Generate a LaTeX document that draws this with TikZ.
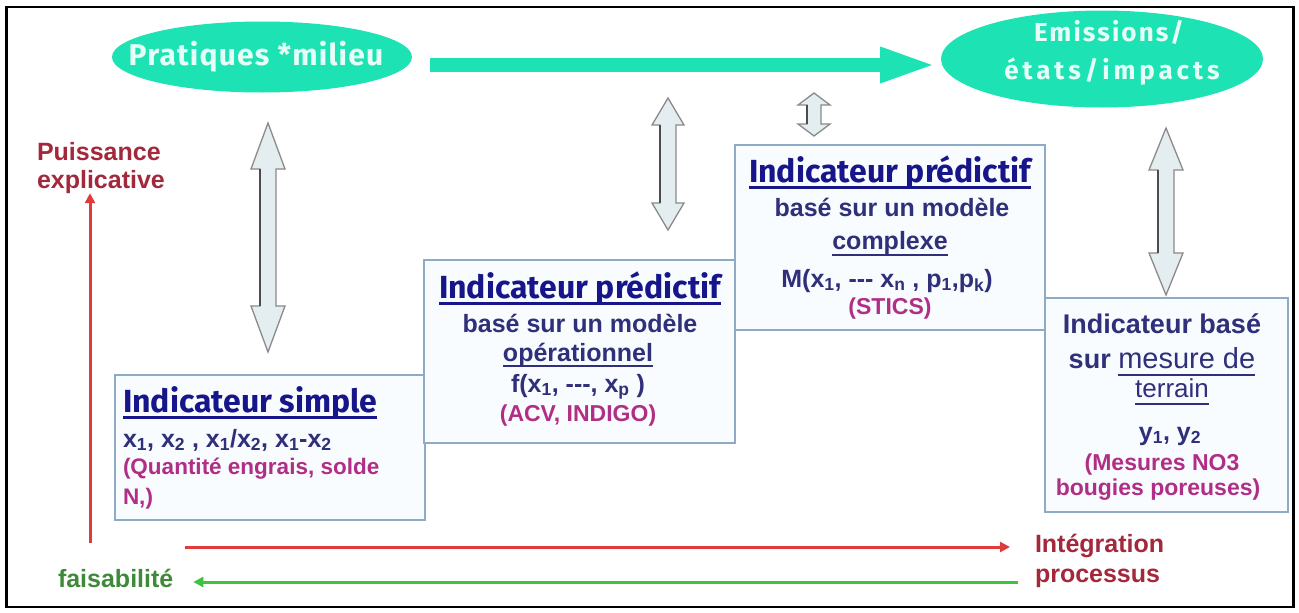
\documentclass[tikz,border=0pt]{standalone}
\usepackage{fontspec}
\setmainfont{Liberation Sans}
\newfontfamily\dinf{Fira Sans}
\usetikzlibrary{shapes.geometric,arrows.meta,calc}
\definecolor{tealc}{HTML}{1DE2B4}
\definecolor{elltext}{HTML}{E6FFF6}
\definecolor{navyc}{HTML}{16168A}
\definecolor{bodyc}{HTML}{2F2F7A}
\definecolor{magc}{HTML}{B02E86}
\definecolor{boxc}{HTML}{8FAAC4}
\definecolor{boxf}{HTML}{F8FCFF}
\definecolor{darrfill}{HTML}{E4EEF0}
\definecolor{darrline}{HTML}{8A8A8A}
\definecolor{labred}{HTML}{A3283C}
\definecolor{labgreen}{HTML}{3F8A3A}
\definecolor{arrred}{HTML}{E03A3A}
\definecolor{arrgreen}{HTML}{3CC43C}
\newsavebox{\ulbox}
\newcommand{\ULn}[3]{\sbox\ulbox{#3}\rlap{\vrule height -#1 depth \dimexpr#1+#2\relax width \wd\ulbox}\usebox\ulbox}
\newcommand{\DArr}[6]{%
  \filldraw[darrow] (#1,#2) -- (#1+#5,#2+#4) -- (#1+#6,#2+#4) -- (#1+#6,#3-#4) -- (#1+#5,#3-#4) -- (#1,#3) -- (#1-#5,#3-#4) -- (#1-#6,#3-#4) -- (#1-#6,#2+#4) -- (#1-#5,#2+#4) -- cycle;
  \draw[darrshade] (#1-#6,#2+#4) -- (#1-#6,#3-#4);}
\begin{document}
\begin{tikzpicture}[x=1pt,y=-1pt,
  every node/.style={inner sep=0pt,outer sep=0pt},
  ell/.style={ellipse,fill=tealc},
  elltxt/.style={text=elltext,align=center},
  box/.style={draw=boxc,fill=boxf,line width=1.3pt,anchor=north west},
  ttl/.style={font=\dinf\bfseries\fontsize{32}{32}\selectfont,text=navyc,anchor=base},
  bdy/.style={font=\bfseries\fontsize{25}{25}\selectfont,text=bodyc,anchor=base},
  mag/.style={font=\bfseries\fontsize{23}{23}\selectfont,text=magc,anchor=base},
  lab/.style={font=\bfseries\fontsize{25}{25}\selectfont,anchor=base west},
  darrow/.style={fill=darrfill,draw=darrline,line width=1.3pt,line join=miter},
  darrshade/.style={draw=black!70,line width=1.4pt},
  redarrow/.style={draw=arrred,line width=3pt,-{Triangle[length=10pt,width=10pt]}},
  greenarrow/.style={draw=arrgreen,line width=3pt,-{Triangle[length=10pt,width=10pt]}},
  tealarrow/.style={draw=tealc,line width=14pt,-{Triangle[length=57pt,width=32pt]}}]
\useasboundingbox (0,0) rectangle (1299,613);
\fill[white] (0,0) rectangle (1299,613);
\draw[black,line width=2.4pt] (6.5,7) rectangle (1293.5,607);

% ellipses
\node[ell,minimum width=300pt,minimum height=71pt] (e1) at (262,57) {};
\node[elltxt,anchor=base,font=\dinf\bfseries\fontsize{30}{30}\selectfont\addfontfeature{LetterSpace=4}] (e1t) at (256,65) {Pratiques *milieu};
\node[ell,minimum width=322pt,minimum height=97pt] (e2) at (1102,59) {};
\node[elltxt,anchor=base,font=\dinf\bfseries\fontsize{26}{26}\selectfont\addfontfeature{LetterSpace=8}] (e2t1) at (1109,41) {Emissions/};
\node[elltxt,anchor=base,font=\dinf\bfseries\fontsize{26}{26}\selectfont\addfontfeature{LetterSpace=15}] (e2t2) at (1112,79) {états/impacts};
\draw[tealarrow] ([xshift=18pt,yshift=-8pt]e1.east) -- ([xshift=-4pt,yshift=-6pt]e2.west);

% double arrows
\DArr{268}{123}{352}{46}{17}{8}
\DArr{668}{98}{230}{27}{16}{8}
\DArr{814}{93}{136}{12}{16}{7}
\DArr{1166}{128}{295}{42}{17}{8}

% boxes
\node[box,minimum width=310pt,minimum height=145pt] (b1) at (115,375) {};
\node[box,minimum width=311pt,minimum height=183pt] (b2) at (424,260) {};
\node[box,minimum width=310pt,minimum height=185pt] (b3) at (735,145) {};
\node[box,minimum width=243pt,minimum height=214pt] (b4) at (1045,298) {};

% box 1 text
\node[ttl,anchor=base west] (b1t) at (123,412) {\ULn{4pt}{3pt}{Indicateur simple}};
\node[bdy,anchor=base west,font=\bfseries\fontsize{25}{25}\selectfont] (b1a) at (123,447) {x\textsubscript{1}, x\textsubscript{2} , x\textsubscript{1}/x\textsubscript{2}, x\textsubscript{1}-x\textsubscript{2}};
\node[mag,anchor=base west,font=\bfseries\fontsize{22.5}{22.5}\selectfont] (b1b) at (123,474) {(Quantité engrais, solde};
\node[mag,anchor=base west,font=\bfseries\fontsize{22.5}{22.5}\selectfont] (b1c) at (123,504) {N,)};

% box 2 text
\node[ttl] (b2t) at (580,298) {\ULn{4pt}{3pt}{Indicateur prédictif}};
\node[bdy] (b2a) at (580,332) {basé sur un modèle};
\node[bdy] (b2b) at (578,361) {\ULn{4pt}{2pt}{opérationnel}};
\node[bdy] (b2c) at (578,392) {f(x\textsubscript{1}, -{}-{}-, x\textsubscript{p} )};
\node[mag] (b2d) at (578,421) {(ACV, INDIGO)};

% box 3 text
\node[ttl] (b3t) at (890,182) {\ULn{4pt}{3pt}{Indicateur prédictif}};
\node[bdy] (b3a) at (892,216) {basé sur un modèle};
\node[bdy] (b3b) at (890,249) {\ULn{5pt}{2pt}{complexe}};
\node[bdy] (b3c) at (887,287) {M(x\textsubscript{1}, -{}-{}- x\textsubscript{n} , p\textsubscript{1},p\textsubscript{k})};
\node[mag] (b3d) at (890,314) {(STICS)};

% box 4 text
\node[bdy,font=\bfseries\fontsize{27}{27}\selectfont] (b4a) at (1162,333) {Indicateur basé};
\node[bdy,font=\bfseries\fontsize{27}{27}\selectfont] (b4b) at (1162,368) {sur \ULn{6pt}{1.6pt}{\mdseries\fontsize{29}{29}\selectfont mesure de}};
\node[bdy,font=\mdseries\fontsize{26}{26}\selectfont] (b4c) at (1172,397) {\ULn{6pt}{1.6pt}{terrain}};
\node[bdy] (b4d) at (1170,440) {y\textsubscript{1}, y\textsubscript{2}};
\node[mag] (b4e) at (1162,470) {(Mesures NO3};
\node[mag] (b4f) at (1158,495) {bougies poreuses)};

% side labels
\node[lab,text=labred] (lblP1) at (37,160) {Puissance};
\node[lab,text=labred] (lblP2) at (37,188) {explicative};
\node[lab,text=labgreen] (lblF) at (58,587) {faisabilité};
\node[lab,text=labred] (lblI1) at (1035,552) {Intégration};
\node[lab,text=labred] (lblI2) at (1035,582) {processus};

% axis arrows
\coordinate (rv0) at (90,543);
\draw[redarrow] (rv0) -- (rv0 |- lblP2.south);
\coordinate (rh0) at (185,547);
\draw[redarrow,shorten >=25pt] (rh0) -- (rh0 -| lblI1.west);
\coordinate (gh0) at (1018,582);
\draw[greenarrow,shorten >=20pt] (gh0) -- (gh0 -| lblF.east);
\end{tikzpicture}
\end{document}
